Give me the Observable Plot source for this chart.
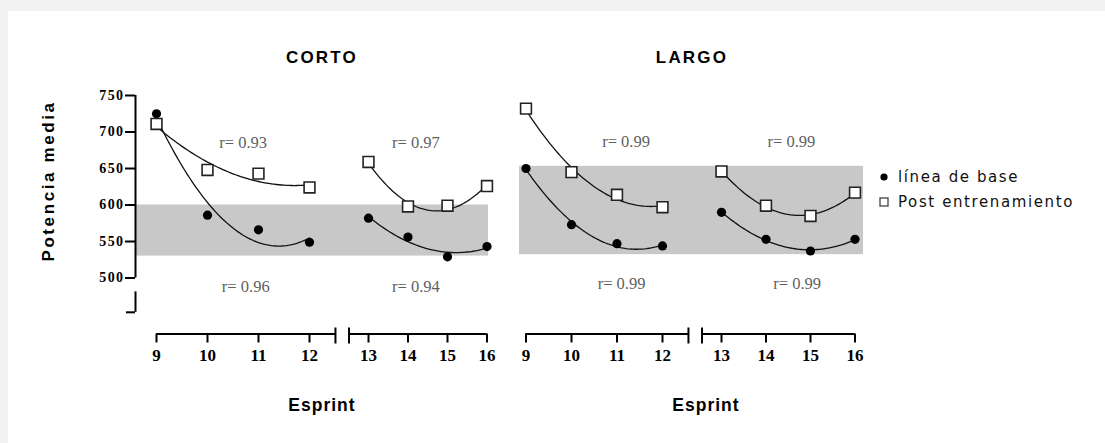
<!DOCTYPE html>
<html>
<head>
<meta charset="utf-8">
<script src="https://cdn.jsdelivr.net/npm/d3@7"></script>
<script src="https://cdn.jsdelivr.net/npm/@observablehq/plot@0.6"></script>
<style>
  html, body { margin: 0; padding: 0; background: #f2f2f2; }
  #fig { position: relative; width: 1105px; height: 443px; background: #f2f2f2; overflow: hidden; }
  #white { position: absolute; left: 8px; top: 11px; right: 0; bottom: 0; background: #fff; }
  .layer { position: absolute; left: 0; top: 0; }
  .layer g[aria-label="y-axis tick label"] text { letter-spacing: 1.4px; }
  .title { position: absolute; transform: translate(-50%, -50%); font-family: "Liberation Sans", Arial, sans-serif; font-weight: bold; color: #000; white-space: nowrap; }
  .legend { position: absolute; left: 879px; top: 164px; font-family: "DejaVu Sans", Verdana, sans-serif; font-size: 15px; letter-spacing: 1.6px; color: #111; }
  .legend div { height: 25px; display: flex; align-items: center; }
  .legend svg { margin-right: 9px; }
</style>
</head>
<body>
<div id="fig"><div id="white"></div></div>
<script>
// ---------- data ----------
const sprintsA = [9, 10, 11, 12];
const sprintsB = [13, 14, 15, 16];
const cortoBaseA = [725, 586, 566, 549];
const cortoBaseB = [582, 556, 529, 543];
const cortoPostA = [711, 648, 643, 624];
const cortoPostB = [659, 598, 599, 626];
const largoBaseA = [650, 573, 547, 544];
const largoBaseB = [590, 553, 537, 553];
const largoPostA = [732, 645, 614, 597];
const largoPostB = [646, 599, 585, 617];
const cortoBand = [530, 600];
const largoBand = [532, 653];
const yTicks = [500, 550, 600, 650, 700, 750];
const cortoR = ["r= 0.93", "r= 0.96", "r= 0.97", "r= 0.94"]; // top A, bottom A, top B, bottom B
const largoR = ["r= 0.99", "r= 0.99", "r= 0.99", "r= 0.99"];
const seriesNames = ["línea de base", "Post entrenamiento"];
const panelTitles = ["CORTO", "LARGO"];
const xTitle = "Esprint";
const yTitle = "Potencia media";

// ---------- helpers ----------
function quadFit(xs, ys) {
  const m = d3.mean(xs);
  const S = [[0,0,0],[0,0,0],[0,0,0]], v = [0,0,0];
  xs.forEach((x, i) => {
    const t = x - m, p = [1, t, t * t];
    for (let r = 0; r < 3; r++) { v[r] += p[r] * ys[i]; for (let c = 0; c < 3; c++) S[r][c] += p[r] * p[c]; }
  });
  const A = S.map((row, i) => [...row, v[i]]);
  for (let i = 0; i < 3; i++) {
    let piv = i;
    for (let k = i + 1; k < 3; k++) if (Math.abs(A[k][i]) > Math.abs(A[piv][i])) piv = k;
    [A[i], A[piv]] = [A[piv], A[i]];
    for (let k = i + 1; k < 3; k++) { const f = A[k][i] / A[i][i]; for (let j = i; j < 4; j++) A[k][j] -= f * A[i][j]; }
  }
  const s = [0,0,0];
  for (let i = 2; i >= 0; i--) { let acc = A[i][3]; for (let j = i + 1; j < 3; j++) acc -= A[i][j] * s[j]; s[i] = acc / A[i][i]; }
  return x => s[0] + s[1] * (x - m) + s[2] * (x - m) ** 2;
}
function curve(xs, ys, id) {
  const f = quadFit(xs, ys);
  const x0 = d3.min(xs), x1 = d3.max(xs);
  return d3.range(61).map(k => { const x = x0 + (x1 - x0) * k / 60; return {x, y: f(x), id}; });
}
const pts = (xs, ys) => xs.map((x, i) => ({x, y: ys[i]}));

const W = 1105, H = 443;
const serif = "'Liberation Serif', 'Times New Roman', serif";
const xAxisOffset = 56;
const breakEnd = 12.44, breakStart = 12.67;

function panel({baseA, baseB, postA, postB, band, r, rPos, xRange, frameLeft, frameRight, yAxis}) {
  const xDomain = [9, 12, 13, 16];
  const xs = d3.scaleLinear(xDomain, xRange);
  const xLeft = xs.invert(frameLeft);
  const curves = [
    ...curve(sprintsA, baseA, "bA"), ...curve(sprintsB, baseB, "bB"),
    ...curve(sprintsA, postA, "pA"), ...curve(sprintsB, postB, "pB")
  ];
  const base = [...pts(sprintsA, baseA), ...pts(sprintsB, baseB)];
  const post = [...pts(sprintsA, postA), ...pts(sprintsB, postB)];
  const labels = r.map((t, i) => ({t, x: rPos[i][0], y: rPos[i][1]}));
  const tickStyle = {anchor: "bottom", dy: xAxisOffset, tickSize: 9, tickPadding: 6, strokeWidth: 2, label: null,
    fontFamily: serif, fontWeight: "bold", fontSize: 17, tickFormat: d => String(d)};
  const marks = [
    Plot.rect([band], {y1: d => d[0], y2: d => d[1], fill: "#c8c8c8"}),
    Plot.line(curves, {x: "x", y: "y", z: "id", stroke: "#111", strokeWidth: 1.3, curve: "linear"}),
    Plot.dot(base, {x: "x", y: "y", r: 4.6, fill: "#000", stroke: "none"}),
    Plot.dot(post, {x: "x", y: "y", r: 6.1, symbol: "square", fill: "#fff", stroke: "#222", strokeWidth: 1.6}),
    Plot.text(labels, {x: "x", y: "y", text: "t", fontFamily: serif, fontSize: 16.5, fill: "#5f5f5f"}),
    // broken x axis
    Plot.ruleY([500], {x1: 9, x2: breakEnd, dy: xAxisOffset, strokeWidth: 2}),
    Plot.ruleY([500], {x1: breakStart, x2: 16, dy: xAxisOffset, strokeWidth: 2}),
    Plot.axisX(sprintsA, tickStyle),
    Plot.axisX(sprintsB, tickStyle),
    Plot.axisX([breakEnd, breakStart], {anchor: "bottom", dy: xAxisOffset - 6, tickSize: 16, strokeWidth: 2, label: null, tickFormat: () => ""})
  ];
  if (yAxis) {
    marks.push(
      Plot.ruleX([xLeft], {y1: 500, y2: 750, strokeWidth: 2}),
      Plot.axisY(yTicks, {anchor: "left", tickSize: 10, tickPadding: 1, strokeWidth: 2, label: null,
        fontFamily: serif, fontWeight: "bold", fontSize: 14, tickFormat: d => String(d)}),
      // lower stub of the broken y axis
      Plot.ruleX([xLeft], {y1: 453, y2: 481, strokeWidth: 2}),
      Plot.axisY([453], {anchor: "left", tickSize: 9, strokeWidth: 2, label: null, tickFormat: () => ""})
    );
  }
  return Plot.plot({
    width: W, height: H,
    marginTop: 95, marginBottom: H - 277.5, marginLeft: frameLeft, marginRight: W - frameRight,
    x: {type: "linear", domain: xDomain, range: xRange, axis: null},
    y: {domain: [500, 750], axis: null},
    style: {background: "none", overflow: "visible"},
    marks
  });
}

const fig = document.getElementById("fig");
const corto = panel({
  baseA: cortoBaseA, baseB: cortoBaseB, postA: cortoPostA, postB: cortoPostB, band: cortoBand,
  r: cortoR, rPos: [[10.7, 686], [10.75, 488], [14.2, 686], [14.2, 488]],
  xRange: [156, 309, 368, 486.5], frameLeft: 135, frameRight: 488, yAxis: true
});
const largo = panel({
  baseA: largoBaseA, baseB: largoBaseB, postA: largoPostA, postB: largoPostB, band: largoBand,
  r: largoR, rPos: [[11.2, 687], [11.1, 492], [14.57, 687], [14.7, 492]],
  xRange: [525.5, 662, 721, 854.5], frameLeft: 519, frameRight: 863, yAxis: false
});
[corto, largo].forEach(p => { p.classList.add("layer"); fig.appendChild(p); });

function addTitle(text, x, y, size, spacing, rotate) {
  const d = document.createElement("div");
  d.className = "title";
  d.textContent = text;
  d.style.left = x + "px"; d.style.top = y + "px";
  d.style.fontSize = size + "px"; d.style.letterSpacing = spacing + "px";
  if (rotate) d.style.transform = "translate(-50%, -50%) rotate(-90deg)";
  fig.appendChild(d);
}
addTitle(panelTitles[0], 322, 58, 17, 2.2);
addTitle(panelTitles[1], 692, 58, 17, 2.2);
addTitle(xTitle, 322, 405, 17.5, 1);
addTitle(xTitle, 706, 405, 17.5, 1);
addTitle(yTitle, 49, 181, 17, 2.6, true);

const leg = document.createElement("div");
leg.className = "legend";
leg.innerHTML =
  `<div><svg width="10" height="10"><circle cx="5" cy="5" r="3.6" fill="#000"/></svg>${seriesNames[0]}</div>` +
  `<div><svg width="10" height="10"><rect x="1" y="1" width="8" height="8" fill="#fff" stroke="#444" stroke-width="1.3"/></svg>${seriesNames[1]}</div>`;
fig.appendChild(leg);
</script>
</body>
</html>
